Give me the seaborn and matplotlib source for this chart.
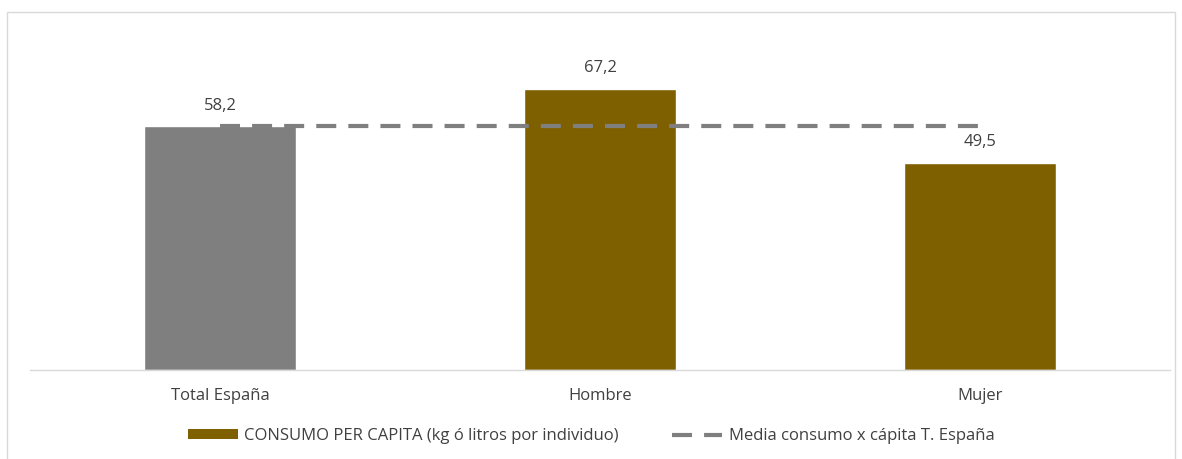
import matplotlib
matplotlib.use('Agg')
import matplotlib.pyplot as plt
import seaborn as sns
import numpy as np
from matplotlib.patches import Patch, Rectangle
from matplotlib.lines import Line2D

categories = ['Total España', 'Hombre', 'Mujer']
consumo = [58.2, 67.2, 49.5]
media_espana = [58.2, 58.2, 58.2]
bar_colors = ['#7F7F7F', '#7F6000', '#7F6000']

serie_label = 'CONSUMO PER CAPITA (kg ó litros por individuo)'
media_label = 'Media consumo x cápita T. España'

sns.set_theme(style='white')
plt.rcParams['font.family'] = ['Open Sans', 'DejaVu Sans']

fig = plt.figure(figsize=(11.82, 4.59), dpi=100)
ax = fig.add_axes([30 / 1182, 89 / 459, 1140 / 1182, 335 / 459])

# outer chart frame
fig.patches.append(Rectangle((7 / 1182, -0.01), 1168 / 1182, 1 - 12 / 459 + 0.01,
                             transform=fig.transFigure, fill=False,
                             edgecolor='#D9D9D9', linewidth=1))

sns.barplot(x=categories, y=consumo, hue=categories, palette=bar_colors,
            width=0.4, legend=False, saturation=1, ax=ax)

for container, v in zip(ax.containers, consumo):
    ax.bar_label(container, labels=[f'{v:.1f}'.replace('.', ',')],
                 padding=9, fontsize=12, color='#404040')

ax.plot(np.arange(len(categories)), media_espana, color='#7F7F7F',
        linewidth=3, linestyle=(0, (4.8, 2.9)))

ax.set_xlim(-0.5, 2.5)
ax.set_ylim(0, 80)
ax.set_yticks([])
ax.set_xlabel('')
ax.set_ylabel('')
for side in ['top', 'left', 'right']:
    ax.spines[side].set_visible(False)
ax.spines['bottom'].set_color('#D9D9D9')
ax.spines['bottom'].set_linewidth(1)
ax.tick_params(axis='x', length=0, pad=13, labelsize=12, labelcolor='#404040')

handles = [Patch(facecolor='#7F6000', edgecolor='none'),
           Line2D([0], [0], color='#7F7F7F', linewidth=3, linestyle=(0, (4.8, 2.9)))]
fig.legend(handles, [serie_label, media_label], loc='center',
           bbox_to_anchor=(0.5, 1 - 436 / 459), ncol=2, frameon=False,
           fontsize=12, labelcolor='#404040', handlelength=3.0,
           handleheight=0.5, columnspacing=3.2, handletextpad=0.4)

fig.savefig('out.png', dpi=100)
